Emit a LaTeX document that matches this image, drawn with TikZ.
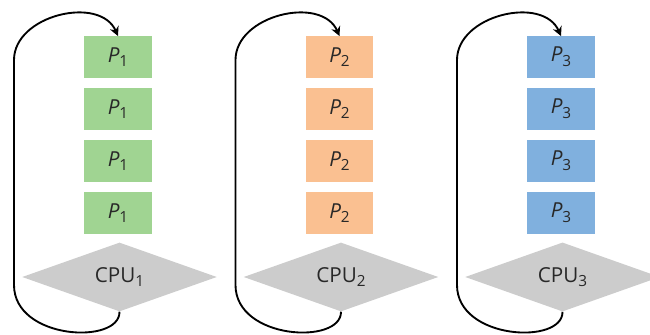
\documentclass[tikz,border=0pt]{standalone}
\usepackage{fontspec}
\setmainfont{Open Sans}
\usetikzlibrary{shapes.geometric,arrows.meta}
\definecolor{pgreen}{RGB}{160,212,146}
\definecolor{porange}{RGB}{250,192,145}
\definecolor{pblue}{RGB}{128,176,222}
\definecolor{cpugray}{RGB}{204,204,204}
\definecolor{txt}{RGB}{40,40,40}
\newcommand{\mysub}[1]{\raisebox{-3.5pt}{\fontsize{11.5}{13}\selectfont #1}}
\tikzset{
  procbox/.style={rectangle, fill=#1, minimum width=50.5pt, minimum height=31pt, inner sep=0pt, font=\fontsize{15.5}{18}\selectfont, text=txt},
  cpunode/.style={diamond, fill=cpugray, minimum width=146pt, minimum height=48pt, inner sep=0pt, font=\fontsize{15.5}{18}\selectfont, text=txt},
  loop/.style={line width=1.4pt, -{Stealth[length=7pt,width=7pt]}}
}
\begin{document}
\begin{tikzpicture}[x=0.75pt,y=-0.75pt]
\useasboundingbox (0,0) rectangle (650,335);
\foreach \i/\col/\dx in {1/pgreen/0, 2/porange/221.5, 3/pblue/443} {
  \begin{scope}[xshift=\dx*0.75pt]
    \node[procbox=\col] (b\i a) at (118,57) {\textit{P}\mysub{\i}};
    \node[procbox=\col] (b\i b) at (118,109) {\textit{P}\mysub{\i}};
    \node[procbox=\col] (b\i c) at (118,161) {\textit{P}\mysub{\i}};
    \node[procbox=\col] (b\i d) at (118,213) {\textit{P}\mysub{\i}};
    \node[cpunode] (cpu\i) at (119.5,277) {CPU\mysub{\i}};
    \draw[loop] (cpu\i.south) .. controls (120,345) and (14,340) .. (14,285)
      -- (14,60) .. controls (14,15) and (100,-5) .. (b\i a.north);
  \end{scope}
}
\end{tikzpicture}
\end{document}
